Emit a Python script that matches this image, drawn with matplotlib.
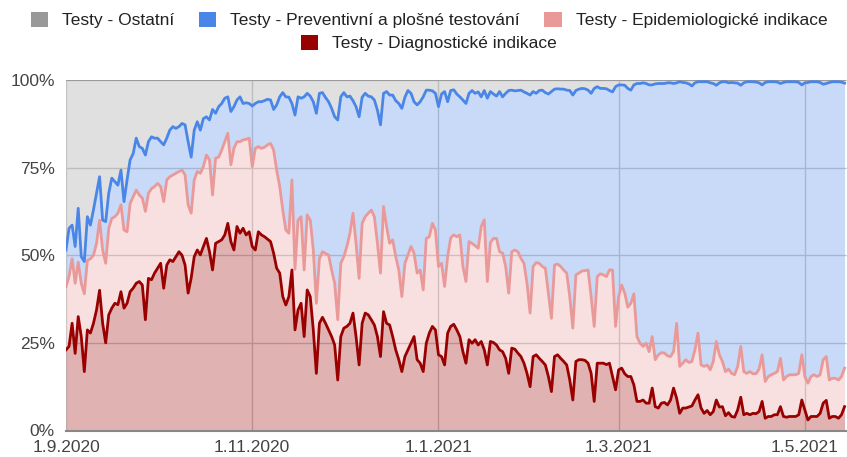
import numpy as np
import pandas as pd
import matplotlib
matplotlib.use('Agg')
import matplotlib.pyplot as plt
from matplotlib.patches import Patch

plt.rcParams['font.family'] = ['Liberation Sans', 'DejaVu Sans']

# ---------------- data (percent of all tests, daily, stacked levels) ----------------
start_date = '2020-09-01'

# Diagnostic indications share (bottom band, %)
diag_pct = [
    23, 24, 30.6, 22, 32.5, 26.8, 16.8, 28.7, 27.8, 30.6,
    34.4, 40, 30.6, 25, 33, 34.9, 36.3, 35.9, 39.6, 34.9,
    36.3, 39.6, 40.6, 42, 42.5, 41.5, 31.6, 43.4, 43, 44.9,
    46.3, 47.7, 40.6, 47.2, 48.7, 48.2, 49.6, 51, 50, 47.2,
    39.2, 43.5, 49.6, 51.5, 50.1, 52.5, 54.8, 51, 45.8, 53.4,
    53.9, 54.4, 55.8, 59.1, 53.9, 51.5, 58.2, 56.3, 57.7, 55.8,
    56.7, 52.5, 51.5, 56.7, 55.8, 55.3, 54.6, 53.9, 50.6, 46.3,
    44.9, 38.2, 35.8, 38.2, 45.8, 28.7, 34.4, 36.3, 26.8, 40.1,
    38.2, 28.7, 16.3, 30.6, 32.3, 30.6, 28.7, 26.8, 24.4, 14.4,
    26.8, 29.2, 29.7, 30.6, 33.5, 26.8, 18.7, 30.6, 33.5, 33,
    31.6, 30.1, 26.8, 21.1, 33.9, 30.6, 30.1, 26.8, 23, 20.2,
    16.8, 21.1, 23, 24.9, 26.8, 20.2, 19.2, 16.8, 24.9, 27.8,
    29.7, 28.7, 21.6, 21.1, 18.7, 27.8, 29.7, 30.3, 28.7, 26.8,
    22.5, 19.2, 25.9, 24.9, 25.9, 24.4, 25.4, 23, 18.7, 25.4,
    25.1, 24.4, 23, 22.5, 20.6, 16.3, 23.5, 23.2, 22.1, 21.1,
    19.2, 16.3, 12.5, 21.1, 21.6, 20.6, 19.7, 18.7, 15.4, 11.1,
    21.1, 21.6, 20.6, 19.7, 18.7, 14.4, 8.7, 19.7, 20.2, 20.2,
    20, 19.2, 16.3, 8.3, 19.2, 19.2, 19.2, 18.8, 19.2, 15.4,
    11.6, 17.3, 17.8, 16.2, 15.4, 15.4, 13, 8.3, 8.3, 8.7,
    7.8, 7.8, 12.1, 6.8, 6.4, 7.8, 8, 7.3, 8.7, 12.1,
    9.2, 4.9, 6.4, 6.4, 6.7, 7, 8.7, 10.2, 6.4, 4.9,
    5.7, 4.5, 5.4, 8.7, 6.7, 6.8, 4.2, 5.1, 4, 3.8,
    5.9, 9.5, 4.5, 4.9, 4.5, 4.9, 4.8, 5.4, 8.3, 3.5,
    4, 4, 4.5, 4.5, 6.8, 4, 3.8, 4, 4, 4,
    4.5, 8.7, 5.9, 3, 4, 4, 4, 4.9, 7.8, 8.6,
    3.5, 4, 4, 3.5, 4.5, 6.8,
]

# Diagnostic + epidemiological indications (cumulative level, %)
diag_epid_pct = [
    41, 44, 49, 42, 48, 42, 39, 48.5, 49, 50,
    53.4, 60, 51.5, 47.7, 57.7, 60.5, 61, 62, 64.4, 57.2,
    56.7, 64.8, 66.7, 68.6, 67.2, 66.3, 62.5, 67.7, 69, 69.6,
    70.5, 69.6, 65.3, 71.5, 72.4, 72.9, 73.4, 73.9, 74.3, 72.9,
    64.4, 62, 71.5, 73.9, 73.4, 75.3, 78.6, 77.2, 67.2, 77.7,
    78, 80, 82.4, 84.8, 75.8, 80.5, 82.4, 82.4, 82.9, 83.1,
    83.4, 75.3, 80.5, 81, 80.5, 80.8, 81.5, 81.9, 80, 74.3,
    69.6, 62.9, 57.2, 56.3, 71.5, 46, 60, 61, 45.8, 61.5,
    60, 51.5, 36.3, 49, 51, 50.5, 50.1, 45.8, 42, 31.6,
    47.7, 49.6, 52.5, 56.3, 62, 53.4, 43.4, 59.1, 61, 62,
    62.9, 61, 53.4, 44.9, 63.9, 58.2, 53.4, 54.4, 49.6, 45.8,
    38.2, 47.7, 50.1, 52.5, 50.6, 44.9, 45.8, 40.1, 54.8, 55.3,
    59.1, 57.2, 46.8, 47.7, 41.1, 49.6, 55, 55.8, 55.3, 55.8,
    46.8, 42.5, 53.9, 53.4, 52.7, 52, 58.2, 60.1, 42.5, 53.6,
    54.8, 54.8, 51, 50.6, 46.8, 39.2, 51, 51.5, 51, 49.1,
    47.7, 42, 33.5, 46.8, 47.9, 47.7, 46.8, 46.3, 39.2, 32,
    47.2, 47.5, 46.8, 45.8, 44.9, 38.2, 29.2, 44.4, 44.9, 45.5,
    45.6, 45.8, 38.2, 29.7, 43.9, 44.7, 44.4, 43.9, 45.8, 45.8,
    29.7, 38.2, 41.5, 39.2, 35.2, 36.3, 39, 26.8, 24.9, 24,
    24.9, 22.5, 26.8, 20.2, 21.6, 22.2, 22.1, 21.3, 21.1, 22.5,
    30.6, 18.3, 19.2, 20.2, 19.4, 19.7, 23, 27.8, 18.7, 18.3,
    18.7, 17.3, 19.7, 25.4, 21.6, 19.7, 16.8, 17.5, 16.3, 15.9,
    18.3, 24, 16.8, 16.3, 16.8, 16.2, 16.2, 17.5, 21.6, 14,
    15.4, 15.9, 16.3, 16.8, 20.6, 14.4, 15.4, 15.9, 15.9, 15.9,
    16.3, 21.6, 15.4, 13.5, 15.4, 15.9, 15.4, 15.9, 20.2, 21.1,
    14.4, 14.9, 14.9, 14.4, 15.4, 17.8,
]

# Diagnostic + epidemiological + preventive/mass testing (cumulative level, %)
diag_epid_prev_pct = [
    51.5, 57.7, 58.6, 52.5, 63.4, 49.6, 48.2, 61, 58.6, 63,
    67.7, 72.4, 60, 59.6, 67.7, 72, 71, 70, 74.3, 65.3,
    71.5, 77.2, 79, 83.4, 81, 80.5, 78.6, 82.4, 83.8, 83.4,
    83.4, 82.4, 81.5, 83.4, 85.7, 86.7, 86.2, 86.7, 87.6, 87.2,
    82.4, 78, 85.7, 88.1, 85.7, 89, 89.5, 88.6, 91.6, 90.5,
    92.4, 93.3, 94.8, 95.2, 91, 92.4, 94.3, 95.2, 93.3, 93.5,
    93.3, 92.6, 93.3, 93.8, 93.8, 94.1, 94.5, 94.3, 91.6, 92.9,
    95.2, 96.4, 95.2, 95.1, 93.3, 90, 95.2, 94.8, 95.2, 96.2,
    95.4, 93.8, 90.5, 96.2, 96.4, 95, 93.8, 91.9, 89.5, 88.6,
    95.2, 96.4, 95.2, 95.4, 94.1, 92.4, 89.5, 95.1, 96.2, 95.4,
    95.2, 94.3, 91.4, 87.2, 96.2, 96.7, 95.7, 95.7, 94.1, 93.3,
    91.9, 95.1, 97, 96.2, 93.8, 92.9, 93.8, 95.2, 97.1, 97.1,
    96.9, 96.2, 92.4, 96, 96.7, 93.8, 97, 97.2, 96, 95.2,
    94.3, 93.3, 96.2, 97, 96.2, 96.6, 95.2, 97, 94.8, 96.7,
    96, 95.4, 96.7, 95.2, 96.2, 97, 97.1, 96.9, 97, 97.1,
    96.6, 96.2, 95.7, 96.7, 96.2, 97, 97.1, 96.4, 96, 96.7,
    97.4, 97.5, 97.4, 97.4, 97.1, 97, 95.7, 97, 97.4, 97.6,
    97.5, 97.1, 96.2, 97.6, 98.1, 97.6, 97.6, 97.5, 97, 96.6,
    98.1, 98.6, 98.6, 98.5, 97.6, 97.1, 98.6, 99, 99, 99.2,
    99, 98.6, 98.6, 98.9, 99, 99, 99, 99.2, 99.2, 99,
    99.2, 99.5, 99.3, 99.2, 98.9, 98.3, 99.2, 99.5, 99.5, 99.5,
    99.5, 99.2, 99, 98.5, 99.2, 99.5, 99.5, 99.2, 99.3, 99.2,
    99.1, 98.5, 99.2, 99.5, 99.5, 99.5, 99.4, 99.2, 98.6, 99.3,
    99.5, 99.5, 99.5, 99.4, 99, 99.3, 99.5, 99.5, 99.5, 99.5,
    99.3, 98.6, 99.2, 99.3, 99.5, 99.5, 99.5, 99.3, 98.8, 99,
    99.3, 99.5, 99.5, 99.5, 99.4, 99.1,
]

series_names = [
    'Testy - Ostatní',
    'Testy - Preventivní a plošné testování',
    'Testy - Epidemiologické indikace',
    'Testy - Diagnostické indikace',
]
series_colors = ['#999999', '#4a86e8', '#ea9999', '#990000']

tick_dates = ['2020-09-01', '2020-11-01', '2021-01-01', '2021-03-01', '2021-05-01']
tick_labels = ['1.9.2020', '1.11.2020', '1.1.2021', '1.3.2021', '1.5.2021']
y_ticks = [0, 25, 50, 75, 100]
y_labels = ['0%', '25%', '50%', '75%', '100%']

# ---------------- drawing ----------------
dates = pd.date_range(start_date, periods=len(diag_pct), freq='D')
lvl_diag = np.array(diag_pct, dtype=float)
lvl_epid = np.array(diag_epid_pct, dtype=float)
lvl_prev = np.array(diag_epid_prev_pct, dtype=float)
lvl_all = np.full_like(lvl_diag, 100.0)
zero = np.zeros_like(lvl_diag)

W, H = 847, 457
fig = plt.figure(figsize=(W / 100, H / 100), dpi=100)
ax = fig.add_axes([66 / W, 26.5 / H, (W - 66) / W, 350.5 / H])

gray_c, blue_c, pink_c, red_c = series_colors
fa = 0.3
ax.fill_between(dates, lvl_prev, lvl_all, color=gray_c, alpha=fa, lw=0, zorder=1)
ax.fill_between(dates, lvl_epid, lvl_prev, color=blue_c, alpha=fa, lw=0, zorder=1)
ax.fill_between(dates, lvl_diag, lvl_epid, color=pink_c, alpha=fa, lw=0, zorder=1)
ax.fill_between(dates, zero, lvl_diag, color=red_c, alpha=fa, lw=0, zorder=1)

lw = 2.0
ax.plot(dates, lvl_all, color=gray_c, lw=1.4, zorder=3)
ax.plot(dates, lvl_prev, color=blue_c, lw=lw, zorder=3)
ax.plot(dates, lvl_epid, color=pink_c, lw=lw, zorder=3)
ax.plot(dates, lvl_diag, color=red_c, lw=lw, zorder=4)

ax.set_xlim(dates[0], dates[-1] + pd.Timedelta(days=0.8))
ax.set_ylim(0, 100)

ax.set_yticks(y_ticks)
ax.set_yticklabels(y_labels)
ax.set_xticks(pd.to_datetime(tick_dates))
ax.set_xticklabels(tick_labels)
ax.tick_params(axis='both', length=0, labelsize=12.5, colors='#444444')
ax.tick_params(axis='y', pad=8)
ax.tick_params(axis='x', pad=6.5)

ax.grid(True, color='#cccccc', lw=1.0, zorder=0)
ax.set_axisbelow(True)
for s in ['top', 'right', 'left']:
    ax.spines[s].set_visible(False)
ax.spines['bottom'].set_color('#888888')
ax.spines['bottom'].set_linewidth(1.5)
ax.spines['bottom'].set_zorder(5)

# legend: 3 items on the first row, 1 on the second
handles = [Patch(facecolor=c, edgecolor='none') for c in series_colors]
common = dict(frameon=False, fontsize=12.55, handlelength=1.0, handleheight=1.0,
              handletextpad=0.8, columnspacing=1.4, borderaxespad=0, borderpad=0,
              labelcolor='#222222')
leg1 = fig.legend(handles[:3], series_names[:3], ncol=3, loc='center',
                  bbox_to_anchor=(429 / W, 1 - 20 / H), **common)
leg2 = fig.legend(handles[3:], series_names[3:], ncol=1, loc='center',
                  bbox_to_anchor=(429 / W, 1 - 43 / H), **common)

fig.savefig('out.png', dpi=100)
